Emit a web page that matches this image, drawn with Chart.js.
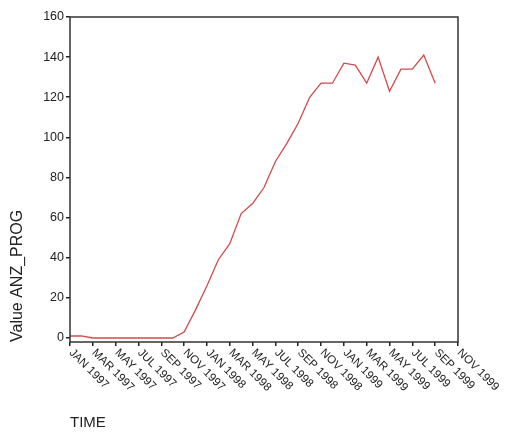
<!DOCTYPE html>
<html>
<head>
<meta charset="utf-8">
<script src="https://cdn.jsdelivr.net/npm/chart.js@4/dist/chart.umd.min.js"></script>
<style>
  html, body { margin: 0; padding: 0; background: #fff; }
  #wrap { width: 507px; height: 433px; }
</style>
</head>
<body>
<div id="wrap"><canvas id="chart" width="507" height="433"></canvas></div>
<script>
// tick labels, one every two months starting at JAN 1997
const tickLabels = [
  'JAN 1997', 'MAR 1997', 'MAY 1997', 'JUL 1997', 'SEP 1997', 'NOV 1997',
  'JAN 1998', 'MAR 1998', 'MAY 1998', 'JUL 1998', 'SEP 1998', 'NOV 1998',
  'JAN 1999', 'MAR 1999', 'MAY 1999', 'JUL 1999', 'SEP 1999', 'NOV 1999',
];

const yTicks = [0, 20, 40, 60, 80, 100, 120, 140, 160];

// monthly values of ANZ_PROG, JAN 1997 .. SEP 1999
const anzProg = [
  1, 1, 0, 0, 0, 0, 0, 0, 0, 0, 3, 14,
  26, 39, 47, 62, 67, 75, 88, 97, 107, 120, 127, 127,
  137, 136, 127, 140, 123, 134, 134, 141, 127,
];

const FONT = '"Liberation Sans", Arial, sans-serif';
const ctx = document.getElementById('chart').getContext('2d');

// SPSS style frame and diagonal month labels
const framePlugin = {
  id: 'frame',
  afterDraw(chart) {
    const { ctx, chartArea: a, scales } = chart;
    ctx.save();
    ctx.strokeStyle = '#333';
    ctx.lineWidth = 1.5;
    ctx.strokeRect(a.left, a.top, a.right - a.left, a.bottom - a.top);

    const x = scales.x;
    ctx.fillStyle = '#222';
    ctx.font = '11.5px ' + FONT;
    ctx.textAlign = 'left';
    ctx.textBaseline = 'middle';
    x.ticks.forEach(t => {
      const label = tickLabels[t.value / 2];
      if (!label) return;
      const px = x.getPixelForValue(t.value);
      ctx.save();
      ctx.translate(px + 1, a.bottom + 9);
      ctx.rotate(Math.PI / 4);
      ctx.fillText(label, 0, 0);
      ctx.restore();
    });
    ctx.restore();
  }
};

new Chart(ctx, {
  type: 'line',
  data: {
    datasets: [{
      label: 'ANZ_PROG',
      data: anzProg.map((v, i) => ({ x: i, y: v })),
      borderColor: '#d24a4a',
      borderWidth: 1.3,
      pointRadius: 0,
      fill: false,
      tension: 0,
    }],
  },
  options: {
    responsive: false,
    animation: false,
    layout: { padding: { top: 17, right: 49, left: 8, bottom: 0 } },
    plugins: {
      legend: { display: false },
      tooltip: { enabled: false },
    },
    scales: {
      x: {
        type: 'linear',
        min: 0,
        max: 34,
        ticks: { display: false, stepSize: 2 },
        grid: { drawOnChartArea: false, drawTicks: true, tickLength: 4, color: '#222', lineWidth: 1.5 },
        border: { display: false },
        title: {
          display: true,
          text: 'TIME',
          align: 'start',
          color: '#222',
          font: { family: FONT, size: 15 },
          padding: { top: 0, bottom: 1 },
        },
        afterFit(axis) { axis.height = 91; },
      },
      y: {
        min: -2,
        max: 160,
        afterBuildTicks(axis) { axis.ticks = yTicks.map(v => ({ value: v })); },
        ticks: {
          color: '#222',
          padding: 2,
          font: { family: FONT, size: 12.5 },
        },
        grid: { drawOnChartArea: false, drawTicks: true, tickLength: 4, color: '#222', lineWidth: 1.5 },
        border: { display: false },
        title: {
          display: true,
          text: 'Value ANZ_PROG',
          align: 'start',
          color: '#222',
          font: { family: FONT, size: 16 },
          padding: { top: 0, bottom: 2 },
        },
        afterFit(axis) { axis.width = 62; },
      },
    },
  },
  plugins: [framePlugin],
});
</script>
</body>
</html>
